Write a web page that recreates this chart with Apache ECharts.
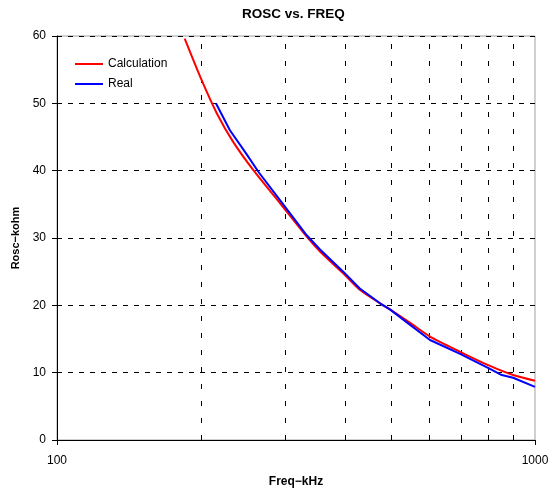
<!DOCTYPE html>
<html>
<head>
<meta charset="utf-8">
<script src="https://cdn.jsdelivr.net/npm/echarts@6/dist/echarts.min.js"></script>
<style>
html,body{margin:0;padding:0;background:#fff;}
#main{width:552px;height:488px;}
</style>
</head>
<body>
<div id="main"></div>
<script>
// ---- data ----
const calcFreq = [185, 200, 216, 234, 258, 293, 333, 355, 397, 430, 474, 497, 548, 603, 697, 805, 900, 1000];
const calcRosc = [59.6, 53.7, 48.5, 44.2, 40.0, 35.15, 30.2, 28.0, 24.75, 22.3, 20.3, 19.4, 17.4, 15.35, 13.1, 11.0, 9.65, 8.8];
const realFreq = [215, 230, 249, 264, 293, 333, 355, 397, 430, 474, 497, 548, 603, 697, 805, 852, 900, 1000];
const realRosc = [50.0, 46.0, 42.5, 39.8, 35.6, 30.4, 28.3, 25.0, 22.5, 20.3, 19.4, 17.1, 14.85, 12.8, 10.55, 9.65, 9.25, 7.9];
const minorGridFreq = [200, 300, 400, 500, 600, 700, 800, 900];
const seriesNames = ['Calculation', 'Real'];

const FONT = 'Liberation Sans, Arial, sans-serif';
const pair = (xs, ys) => xs.map((x, i) => [x, ys[i]]);

const chart = echarts.init(document.getElementById('main'), null, {renderer: 'canvas'});
chart.setOption({
  backgroundColor: '#ffffff',
  animation: false,
  title: {
    text: 'ROSC vs. FREQ',
    left: 242,
    top: 7,
    padding: 0,
    textStyle: {fontFamily: FONT, fontSize: 13.5, fontWeight: 'bold', color: '#000'}
  },
  legend: {
    orient: 'vertical',
    left: 75,
    top: 57,
    padding: 0,
    itemWidth: 28,
    itemHeight: 2,
    itemGap: 6,
    icon: 'rect',
    data: seriesNames,
    textStyle: {fontFamily: FONT, fontSize: 12, color: '#000', lineHeight: 14}
  },
  grid: {
    left: 57, right: 17, top: 36, bottom: 48,
    outerBoundsMode: 'none',
    containLabel: false,
    show: true, borderColor: '#a0a0a0', borderWidth: 1, backgroundColor: 'transparent'
  },
  xAxis: {
    type: 'log',
    logBase: 10,
    min: 100,
    max: 1000,
    name: 'Freq\u2212kHz',
    nameLocation: 'middle',
    nameGap: 36,
    nameTextStyle: {fontFamily: FONT, fontSize: 12, fontWeight: 'bold', color: '#000'},
    axisLine: {show: true, onZero: false, lineStyle: {color: '#000', width: 1}},
    axisTick: {show: true, length: 5, lineStyle: {color: '#000'}},
    axisLabel: {fontFamily: FONT, fontSize: 12, color: '#000', margin: 15,
      formatter: v => String(Math.round(v))},
    splitLine: {show: false},
    minorTick: {show: false}
  },
  yAxis: {
    type: 'value',
    min: 0,
    max: 60,
    interval: 10,
    name: 'Rosc\u2212kohm',
    nameLocation: 'middle',
    nameGap: 33,
    nameTextStyle: {fontFamily: FONT, fontSize: 11, fontWeight: 'bold', color: '#000'},
    axisLine: {show: true, lineStyle: {color: '#000', width: 1}},
    axisTick: {show: true, length: 5, lineStyle: {color: '#000'}},
    axisLabel: {fontFamily: FONT, fontSize: 12, color: '#000', margin: 11},
    splitLine: {show: true, lineStyle: {color: '#000', width: 1, type: [5, 6]}}
  },
  series: [
    {
      name: seriesNames[0],
      type: 'line',
      data: pair(calcFreq, calcRosc),
      symbol: 'none',
      smooth: 0.25,
      lineStyle: {color: '#ff0000', width: 2},
      itemStyle: {color: '#ff0000'},
      z: 3,
      markLine: {
        silent: true,
        symbol: ['none', 'none'],
        label: {show: false},
        lineStyle: {color: '#000', width: 1, type: [5, 12]},
        data: minorGridFreq.map(f => ({xAxis: f})),
        z: 1
      }
    },
    {
      name: seriesNames[1],
      type: 'line',
      data: pair(realFreq, realRosc),
      symbol: 'none',
      lineStyle: {color: '#0000ff', width: 2},
      itemStyle: {color: '#0000ff'},
      z: 4
    }
  ]
});
</script>
</body>
</html>
